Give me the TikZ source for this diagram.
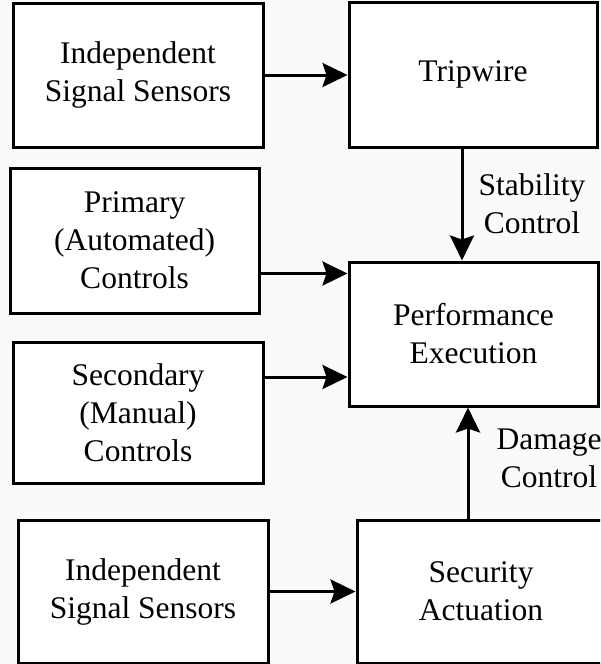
\documentclass[tikz,border=0pt]{standalone}
\usepackage{fontspec}
\setmainfont{Liberation Serif}
\usetikzlibrary{arrows.meta}

\tikzset{
  blockbox/.style={draw=black, line width=3pt, fill=white, inner sep=0pt,
    align=center, font=\fontsize{31.5}{38}\selectfont},
  flowarrow/.style={line width=3pt, -{Stealth[length=25pt, width=24pt, inset=4pt]}},
  sidelabel/.style={align=center, inner sep=0pt, font=\fontsize{31.5}{38}\selectfont}
}

\begin{document}
\begin{tikzpicture}[x=1pt, y=-1pt]
  \fill[white!98!black] (0,0) rectangle (600,664);
  \clip (0,0) rectangle (600,664);

  % blocks
  \node[blockbox, minimum width=250pt, minimum height=144pt] (sensA) at (138,75)
    {Independent\\Signal Sensors};
  \node[blockbox, minimum width=248pt, minimum height=145pt] (trip) at (473,74.5)
    {Tripwire};
  \node[blockbox, minimum width=249pt, minimum height=145pt] (prim) at (134.5,240.5)
    {Primary\\(Automated)\\Controls};
  \node[blockbox, minimum width=249pt, minimum height=144pt] (perf) at (473.5,334)
    {Performance\\Execution};
  \node[blockbox, minimum width=250pt, minimum height=141pt] (sec) at (138,412.5)
    {Secondary\\(Manual)\\Controls};
  \node[blockbox, minimum width=250pt, minimum height=143pt] (sensB) at (143,591.5)
    {Independent\\Signal Sensors};
  \node[blockbox, minimum width=248pt, minimum height=143pt] (secu) at (481,591.5)
    {Security\\Actuation};

  % connectors
  \draw[flowarrow] (sensA.east) -- (sensA.east -| trip.west);
  \draw[flowarrow] ([yshift=-33pt]prim.east) -- ([yshift=-33pt]prim.east -| perf.west);
  \draw[flowarrow] ([yshift=35.5pt]sec.east) -- ([yshift=35.5pt]sec.east -| perf.west);
  \draw[flowarrow] (sensB.east) -- (sensB.east -| secu.west);
  \draw[flowarrow] ([xshift=-11pt]trip.south) -- ([xshift=-11pt]trip.south |- perf.north);
  \draw[flowarrow] ([xshift=-13pt]secu.north) -- ([xshift=-13pt]secu.north |- perf.south);

  % connector labels
  \node[sidelabel] (stabtxt) at (532,204) {Stability\\Control};
  \node[sidelabel] (dmgtxt) at (549,458) {Damage\\Control};
\end{tikzpicture}
\end{document}
